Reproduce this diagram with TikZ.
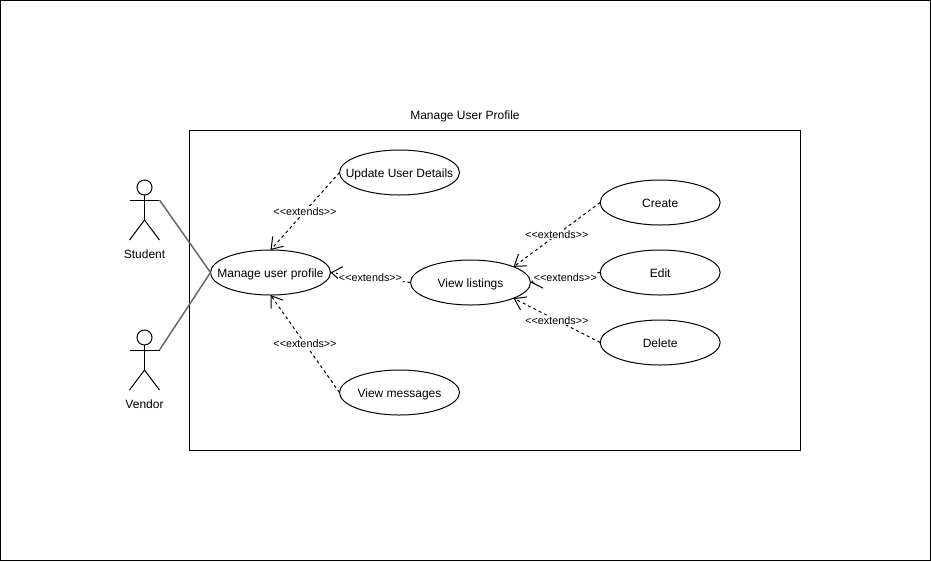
\documentclass[tikz,border=0pt]{standalone}
\usepackage{fontspec}
\setmainfont{Liberation Sans}
\usetikzlibrary{arrows.meta,shapes.geometric,positioning}
\newcommand{\extlabel}{<{}<extends>{}>}
\newcommand{\uctext}[1]{\makebox[0pt]{\raisebox{-3.4pt}[0pt][0pt]{#1}}}

\begin{document}
\begin{tikzpicture}
[x=.75pt,y=-.75pt,line width=.75pt,font=\fontsize{9}{11}\selectfont,
usecase/.style={draw=black,ellipse,minimum width=90pt,minimum height=33.75pt,inner sep=0pt,outer sep=0pt},
actorhead/.style={draw=black,circle,minimum size=11.25pt,inner sep=0pt,outer sep=0pt},
actorlabel/.style={inner sep=0pt},
assoc/.style={draw=black!60,line width=1.1pt},
extarrow/.style={dash pattern=on 2.25pt off 2.25pt,-{Straight Barb[length=8pt,width=11pt,line width=.75pt]}},
extnode/.style={fill=white,inner sep=.6pt,font=\fontsize{8.1}{10}\selectfont}]
\useasboundingbox (0,0) rectangle (931,561);
%%%%%%%%%%
%% frames
\node (page) [draw=black,minimum width=697.5pt,minimum height=420pt,inner sep=0pt,outer sep=0pt] at (465.5,280.5) {};
\node (system) [draw=black,minimum width=458.25pt,minimum height=240pt,inner sep=0pt,outer sep=0pt] at (495,290.5) {};
\node (title) [inner sep=0pt] at (465,116.5) {Manage User Profile};
%%
%% use cases
\node (manage) [usecase] at (270.5,272.5) {\uctext{Manage user profile}};
\node (update) [usecase] at (399.5,172.5) {\uctext{Update User Details}};
\node (messages) [usecase] at (399.5,392.5) {\uctext{View messages}};
\node (listings) [usecase,right=60pt of manage,yshift=-7.5pt] {\uctext{View listings}};
\node (edit) [usecase,right=52.25pt of listings,yshift=7.5pt] {\uctext{Edit}};
\node (create) [usecase,above=18.75pt of edit] {\uctext{Create}};
\node (delete) [usecase,below=18.75pt of edit] {\uctext{Delete}};
%%
%% actors
\foreach \actorname/\ypos/\actortext in {student/187.5/Student,vendor/337.5/Vendor}{
  \node (\actorname head) [actorhead] at (144.5,\ypos) {};
  \coordinate (\actorname left) at (129.5,\ypos+12.5);
  \coordinate (\actorname arm) at (159.5,\ypos+12.5);
  \coordinate (\actorname hip) at (144.5,\ypos+32.5);
  \coordinate (\actorname footl) at (129.5,\ypos+52.5);
  \coordinate (\actorname footr) at (159.5,\ypos+52.5);
  \draw (\actorname head) -- (\actorname hip);
  \draw (\actorname left) -- (\actorname arm);
  \draw (\actorname footl) -- (\actorname hip) -- (\actorname footr);
  \node (\actorname label) [actorlabel] at (144.5,\ypos+66.5) {\actortext};
}
%%
%% connectors
\draw [assoc] (studentarm) -- (manage.west);
\draw [assoc] (vendorarm) -- (manage.west);
\draw [extarrow] (update.west) -- node[extnode] {\extlabel} (manage.north);
\draw [extarrow] (messages.west) -- node[extnode] {\extlabel} (manage.south);
\draw [extarrow] (listings.west) -- node[extnode] {\extlabel} (manage.east);
\draw [extarrow] (create.west) -- node[extnode] {\extlabel} (listings.20);
\draw [extarrow] (edit.west) -- node[extnode] {\extlabel} (listings.east);
\draw [extarrow] (delete.west) -- node[extnode] {\extlabel} (listings.-20);
%%
\end{tikzpicture}
\end{document}
